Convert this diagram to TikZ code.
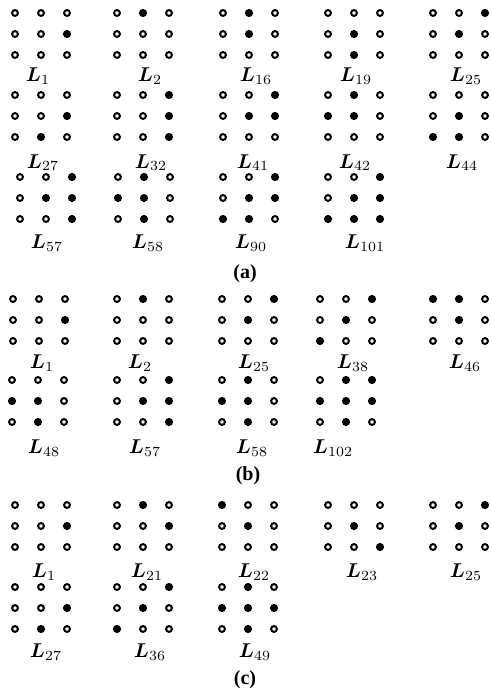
\documentclass[tikz,border=0pt]{standalone}
\usepackage{fontspec}
\setmainfont{Liberation Serif}
\usepackage{amsmath}
\usepackage{bm}

% one 3x3 lattice: name, x of left column, y of top row, 9 entries (1 = occupied)
\newcommand{\lattice}[4]{%
  \foreach \v [count=\k from 0] in {#4} {
    \pgfmathtruncatemacro{\cc}{mod(\k,3)}
    \pgfmathtruncatemacro{\rr}{int(\k/3)}
    \ifnum\v=1
      \node[full] (#1-\k) at ({#2+26*\cc},{#3+21*\rr}) {};
    \else
      \node[empty] (#1-\k) at ({#2+26*\cc},{#3+21*\rr}) {};
    \fi
  }
}

\begin{document}
\begin{tikzpicture}[
  x=0.5pt, y=-0.5pt,
  empty/.style={circle, draw, line width=1pt, minimum size=2.9pt, inner sep=0pt},
  full/.style={circle, fill, minimum size=4.1pt, inner sep=0pt},
  lbl/.style={font=\normalsize, inner sep=0pt, anchor=base},
  panel/.style={font=\normalsize\bfseries, inner sep=0pt, anchor=base},
]
  \useasboundingbox (0,0) rectangle (491,690);

  % (a)
  \lattice{a1}{15}{13}{0,0,0,0,0,1,0,0,0}
  \lattice{a2}{117}{13}{0,1,0,0,0,0,0,0,0}
  \lattice{a16}{223}{13}{0,1,0,0,1,0,0,0,0}
  \lattice{a19}{328}{13}{0,0,0,0,1,0,0,1,0}
  \lattice{a25}{433}{13}{0,0,1,0,1,0,0,0,0}
  \node[lbl] (la1) at (38,82) {$\bm{L}_{1}$};
  \node[lbl] (la2) at (150,82) {$\bm{L}_{2}$};
  \node[lbl] (la16) at (256,82) {$\bm{L}_{16}$};
  \node[lbl] (la19) at (356,82) {$\bm{L}_{19}$};
  \node[lbl] (la25) at (466,82) {$\bm{L}_{25}$};

  \lattice{a27}{15}{95}{0,0,0,0,0,1,0,1,0}
  \lattice{a32}{117}{95}{0,0,1,0,0,1,0,0,1}
  \lattice{a41}{223}{95}{0,0,1,0,1,1,0,0,0}
  \lattice{a42}{328}{95}{0,1,0,1,1,0,0,0,0}
  \lattice{a44}{433}{95}{0,0,0,0,1,0,1,1,0}
  \node[lbl] (la27) at (43,168) {$\bm{L}_{27}$};
  \node[lbl] (la32) at (151,168) {$\bm{L}_{32}$};
  \node[lbl] (la41) at (253,168) {$\bm{L}_{41}$};
  \node[lbl] (la42) at (355,168) {$\bm{L}_{42}$};
  \node[lbl] (la44) at (462,168) {$\bm{L}_{44}$};

  \lattice{a57}{20}{177}{0,0,1,0,1,1,0,0,1}
  \lattice{a58}{118}{177}{0,1,0,1,1,0,0,1,0}
  \lattice{a90}{223}{177}{0,0,1,0,1,1,1,1,0}
  \lattice{a101}{328}{177}{0,0,1,0,1,1,1,1,1}
  \node[lbl] (la57) at (47,248) {$\bm{L}_{57}$};
  \node[lbl] (la58) at (148,248) {$\bm{L}_{58}$};
  \node[lbl] (la90) at (251,248) {$\bm{L}_{90}$};
  \node[lbl] (la101) at (365,248) {$\bm{L}_{101}$};
  \node[panel] (pa) at (245,278) {(a)};

  % (b)
  \lattice{b1}{13}{299}{0,0,0,0,0,1,0,0,0}
  \lattice{b2}{117}{299}{0,1,0,0,0,0,0,0,0}
  \lattice{b25}{222}{299}{0,0,1,0,1,0,0,0,0}
  \lattice{b38}{320}{299}{0,0,1,0,1,0,1,0,0}
  \lattice{b46}{433}{299}{1,1,0,0,1,0,0,0,0}
  \node[lbl] (lb1) at (42,368) {$\bm{L}_{1}$};
  \node[lbl] (lb2) at (140,368) {$\bm{L}_{2}$};
  \node[lbl] (lb25) at (254,368) {$\bm{L}_{25}$};
  \node[lbl] (lb38) at (353,368) {$\bm{L}_{38}$};
  \node[lbl] (lb46) at (465,368) {$\bm{L}_{46}$};

  \lattice{b48}{12}{380}{0,0,0,1,1,0,0,1,0}
  \lattice{b57}{117}{380}{0,0,1,0,1,1,0,0,1}
  \lattice{b58}{222}{380}{0,1,0,1,1,0,0,1,0}
  \lattice{b102}{320}{380}{0,1,1,1,1,1,0,1,0}
  \node[lbl] (lb48) at (44,453) {$\bm{L}_{48}$};
  \node[lbl] (lb57) at (145,453) {$\bm{L}_{57}$};
  \node[lbl] (lb58) at (252,453) {$\bm{L}_{58}$};
  \node[lbl] (lb102) at (333,453) {$\bm{L}_{102}$};
  \node[panel] (pb) at (248,480) {(b)};

  % (c)
  \lattice{c1}{15}{505}{0,0,0,0,0,1,0,0,0}
  \lattice{c21}{117}{505}{0,1,0,0,0,1,0,0,0}
  \lattice{c22}{222}{505}{1,0,0,0,1,0,0,0,0}
  \lattice{c23}{328}{505}{0,0,0,0,1,0,0,0,1}
  \lattice{c25}{433}{505}{0,0,1,0,1,0,0,0,0}
  \node[lbl] (lc1) at (44,577) {$\bm{L}_{1}$};
  \node[lbl] (lc21) at (147,577) {$\bm{L}_{21}$};
  \node[lbl] (lc22) at (254,577) {$\bm{L}_{22}$};
  \node[lbl] (lc23) at (362,577) {$\bm{L}_{23}$};
  \node[lbl] (lc25) at (466,577) {$\bm{L}_{25}$};

  \lattice{c27}{15}{587}{0,0,0,0,0,1,0,1,0}
  \lattice{c36}{117}{587}{0,0,1,0,1,0,1,0,0}
  \lattice{c49}{222}{587}{0,1,0,1,1,1,0,1,0}
  \node[lbl] (lc27) at (46,657) {$\bm{L}_{27}$};
  \node[lbl] (lc36) at (150,657) {$\bm{L}_{36}$};
  \node[lbl] (lc49) at (255,657) {$\bm{L}_{49}$};
  \node[panel] (pc) at (245,684) {(c)};
\end{tikzpicture}
\end{document}
